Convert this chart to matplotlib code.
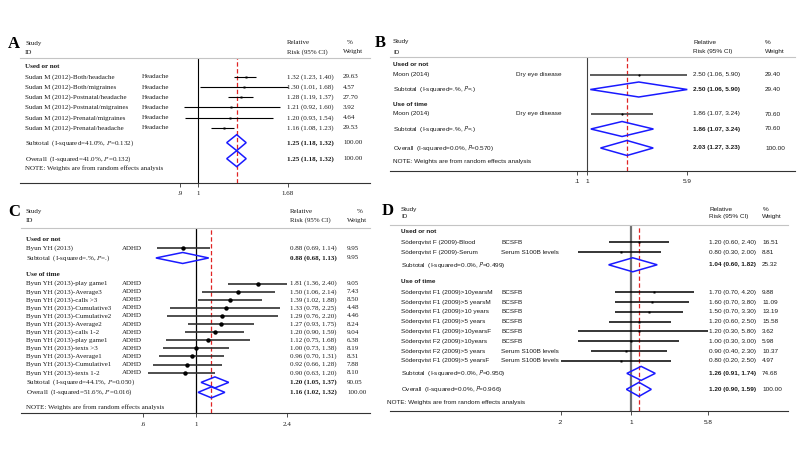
import numpy as np
import matplotlib.pyplot as plt
from matplotlib.patches import Polygon
from matplotlib.transforms import blended_transform_factory

# ---------------- data ----------------
# Panel A
A_groups = ["Used or not"]
A_study = ["Sudan M (2012)-Both/headache", "Sudan M (2012)-Both/migraines",
           "Sudan M (2012)-Postnatal/headache", "Sudan M (2012)-Postnatal/migraines",
           "Sudan M (2012)-Prenatal/migraines", "Sudan M (2012)-Prenatal/headache"]
A_outcome = ["Headache"] * 6
A_grp = [0, 0, 0, 0, 0, 0]
A_rr = [1.32, 1.30, 1.28, 1.21, 1.20, 1.16]
A_lo = [1.23, 1.01, 1.19, 0.92, 0.93, 1.08]
A_hi = [1.40, 1.68, 1.37, 1.60, 1.54, 1.23]
A_wt = [29.63, 4.57, 27.70, 3.92, 4.64, 29.53]
A_sub_i2 = ["41.0"]
A_sub_p = ["0.132"]
A_sub_rr = [1.25]
A_sub_lo = [1.18]
A_sub_hi = [1.32]
A_sub_wt = [100.00]
A_all = dict(i2="41.0", p="0.132", rr=1.25, lo=1.18, hi=1.32, wt=100.00)
A_ticks = [0.9, 1, 1.68]
A_ticklabels = [".9", "1", "1.68"]

# Panel B
B_groups = ["Used or not", "Use of time"]
B_study = ["Moon (2014)", "Moon (2014)"]
B_outcome = ["Dry eye disease", "Dry eye disease"]
B_grp = [0, 1]
B_rr = [2.50, 1.86]
B_lo = [1.06, 1.07]
B_hi = [5.90, 3.24]
B_wt = [29.40, 70.60]
B_sub_i2 = [".", "."]
B_sub_p = [".", "."]
B_sub_rr = [2.50, 1.86]
B_sub_lo = [1.06, 1.07]
B_sub_hi = [5.90, 3.24]
B_sub_wt = [29.40, 70.60]
B_all = dict(i2="0.0", p="0.570", rr=2.03, lo=1.27, hi=3.23, wt=100.00)
# the ".1" label sits just left of the null line in the source figure
B_ticks = [0.84, 1, 5.9]
B_ticklabels = [".1", "1", "5.9"]

# Panel C
C_groups = ["Used or not", "Use of time"]
C_study = ["Byun YH (2013)",
           "Byun YH (2013)-play game1", "Byun YH (2013)-Average3", "Byun YH (2013)-calls >3",
           "Byun YH (2013)-Cumulative3", "Byun YH (2013)-Cumulative2", "Byun YH (2013)-Average2",
           "Byun YH (2013)-calls 1-2", "Byun YH (2013)-play game1", "Byun YH (2013)-texts >3",
           "Byun YH (2013)-Average1", "Byun YH (2013)-Cumulative1", "Byun YH (2013)-texts 1-2"]
C_outcome = ["ADHD"] * 13
C_grp = [0] + [1] * 12
C_rr = [0.88, 1.81, 1.50, 1.39, 1.33, 1.29, 1.27, 1.20, 1.12, 1.00, 0.96, 0.92, 0.90]
C_lo = [0.69, 1.36, 1.06, 1.02, 0.78, 0.76, 0.93, 0.90, 0.75, 0.73, 0.70, 0.66, 0.63]
C_hi = [1.14, 2.40, 2.14, 1.88, 2.25, 2.20, 1.75, 1.59, 1.68, 1.38, 1.31, 1.28, 1.20]
C_wt = [9.95, 9.05, 7.43, 8.50, 4.48, 4.46, 8.24, 9.04, 6.38, 8.19, 8.31, 7.88, 8.10]
C_sub_i2 = [".", "44.1"]
C_sub_p = [".", "0.050"]
C_sub_rr = [0.88, 1.20]
C_sub_lo = [0.68, 1.05]
C_sub_hi = [1.13, 1.37]
C_sub_wt = [9.95, 90.05]
C_all = dict(i2="51.6", p="0.016", rr=1.16, lo=1.02, hi=1.32, wt=100.00)
C_ticks = [0.6, 1, 2.4]
C_ticklabels = [".6", "1", "2.4"]

# Panel D
D_groups = ["Used or not", "Use of time"]
D_study = ["Söderqvist F (2009)-Blood", "Söderqvist F (2009)-Serum",
           "Söderqvist F1 (2009)>10yearsM", "Söderqvist F1 (2009)>5 yearsM",
           "Söderqvist F1 (2009)>10 years", "Söderqvist F1 (2009)>5 years",
           "Söderqvist F1 (2009)>10yearsF", "Söderqvist F2 (2009)>10years",
           "Söderqvist F2 (2009)>5 years", "Söderqvist F1 (2009)>5 yearsF"]
D_outcome = ["BCSFB", "Serum S100B levels", "BCSFB", "BCSFB", "BCSFB", "BCSFB",
             "BCSFB", "BCSFB", "Serum S100B levels", "Serum S100B levels"]
D_grp = [0, 0, 1, 1, 1, 1, 1, 1, 1, 1]
D_rr = [1.20, 0.80, 1.70, 1.60, 1.50, 1.20, 1.20, 1.00, 0.90, 0.80]
D_lo = [0.60, 0.30, 0.70, 0.70, 0.70, 0.60, 0.30, 0.30, 0.40, 0.20]
D_hi = [2.40, 2.00, 4.20, 3.80, 3.30, 2.50, 5.80, 3.00, 2.30, 2.50]
D_wt = [16.51, 8.81, 9.88, 11.09, 13.19, 15.58, 3.62, 5.98, 10.37, 4.97]
D_sub_i2 = ["0.0", "0.0"]
D_sub_p = ["0.499", "0.950"]
D_sub_rr = [1.04, 1.26]
D_sub_lo = [0.60, 0.91]
D_sub_hi = [1.82, 1.74]
D_sub_wt = [25.32, 74.68]
D_all = dict(i2="0.0", p="0.966", rr=1.20, lo=0.90, hi=1.59, wt=100.00)
D_ticks = [0.2, 1, 5.8]
D_ticklabels = [".2", "1", "5.8"]

NOTE = "NOTE: Weights are from random effects analysis"

# ---------------- drawing ----------------
W, H = 800, 450
fig = plt.figure(figsize=(8, 4.5), dpi=100)
fig.patch.set_facecolor('white')

SERIF = 'Liberation Serif'
SANS = 'Liberation Sans'
TXT = '#1a1a1a'


def forest(letter, d, L):
    fam = L['fam']
    fs = L['fs']
    mfam = 'stix' if fam == SERIF else 'stixsans'
    s = L['step']
    left, right = L['xspan']
    x1, k = L['x1'], L['k']

    # work out row positions (pixels below header line)
    rows = []
    y = L['top'] * s
    for g, name in enumerate(d['groups']):
        if g > 0:
            y += L['g_after'] * s
        rows.append(('group', y, g))
        idx = [i for i in range(len(d['grp'])) if d['grp'][i] == g]
        for j, i in enumerate(idx):
            y += (L['gs'] if j == 0 else 1.0) * s
            rows.append(('study', y, i))
        y += L['sub'] * s
        rows.append(('sub', y, g))
    y += L['overall'] * s
    rows.append(('overall', y, None))
    y += L['note'] * s
    rows.append(('note', y, None))
    bottom = y + L['bottom'] * s

    top_px = L['header_y']
    ax = fig.add_axes([left / W, 1 - (top_px + bottom) / H,
                       (right - left) / W, bottom / H])
    ax.set_xscale('log')
    ax.set_xlim(np.exp((left - x1) / k), np.exp((right - x1) / k))
    ax.set_ylim(bottom, 0)
    ax.set_yticks([])
    for sp in ['left', 'right']:
        ax.spines[sp].set_visible(False)
    ax.spines['top'].set_color('#c4c4c4')
    ax.spines['top'].set_linewidth(0.8)
    ax.spines['bottom'].set_color('#333333')
    ax.spines['bottom'].set_linewidth(0.8)
    ax.set_xticks(L['ticks'])
    ax.set_xticklabels(L['ticklabels'])
    ax.minorticks_off()
    ax.tick_params(axis='x', length=3, width=0.6, color='#333333', pad=3,
                   labelsize=fs, labelcolor=TXT)
    for lab in ax.get_xticklabels():
        lab.set_family(fam)
    ax.patch.set_alpha(0)

    tr = blended_transform_factory(fig.transFigure, ax.transData)

    def txt(px, yy, t, bold=False):
        ax.text(px / W, yy, t, transform=tr, ha='left', va='center',
                fontsize=fs, family=fam, color=TXT,
                fontweight='bold' if bold else 'normal', math_fontfamily=mfam)

    # headers
    h1, h2 = L['hdr']
    txt(L['lab_x'], h1, "Study")
    txt(L['lab_x'], h2, "ID")
    txt(L['rr_x'], h1, "Relative")
    txt(L['rr_x'], h2, "Risk (95% CI)")
    txt(L['pct_x'], h1, "%")
    txt(L['wt_x'], h2, "Weight")
    fig.text(L['letter_x'] / W, 1 - (top_px + h1 + 1) / H, letter, fontsize=12,
             fontweight='bold', family=SERIF, ha='center', va='center')

    ax.axvline(1, color=L['null_c'], lw=L['null_lw'], zorder=1)
    ax.axvline(d['all']['rr'], color='#e02424', lw=0.9, ls=(0, (3.5, 2)), zorder=1)

    half = L['dia']

    def diamond(yy, rr, lo, hi):
        ax.add_patch(Polygon([[lo, yy], [rr, yy - half], [hi, yy], [rr, yy + half]],
                             closed=True, fill=False, ec='#1a1aff', lw=1.1, zorder=3))

    def ci(rr, lo, hi):
        return "%.2f (%.2f, %.2f)" % (rr, lo, hi)

    for kind, yy, i in rows:
        if kind == 'group':
            txt(L['lab_x'], yy, d['groups'][i], bold=True)
        elif kind == 'study':
            ax.plot([d['lo'][i], d['hi'][i]], [yy, yy], color=L['ci_c'], lw=L['ci_lw'],
                    solid_capstyle='butt', zorder=2)
            ax.plot(d['rr'][i], yy, marker=L['mk'], ms=L['ms'], color='black',
                    mec='none', zorder=4)
            txt(L['lab_x'], yy, d['study'][i])
            txt(L['out_x'], yy, d['outcome'][i])
            txt(L['rr_x'], yy, ci(d['rr'][i], d['lo'][i], d['hi'][i]))
            txt(L['wt_x'], yy, "%.2f" % d['wt'][i])
        elif kind == 'sub':
            diamond(yy, d['sub_rr'][i], d['sub_lo'][i], d['sub_hi'][i])
            txt(L['lab_x'], yy, "Subtotal  (I-squared=%s%%, $\\mathit{P}$=%s)"
                % (d['sub_i2'][i], d['sub_p'][i]))
            txt(L['rr_x'], yy, ci(d['sub_rr'][i], d['sub_lo'][i], d['sub_hi'][i]), bold=True)
            txt(L['wt_x'], yy, "%.2f" % d['sub_wt'][i])
        elif kind == 'overall':
            a = d['all']
            diamond(yy, a['rr'], a['lo'], a['hi'])
            txt(L['lab_x'], yy, "Overall  (I-squared=%s%%, $\\mathit{P}$=%s)" % (a['i2'], a['p']))
            txt(L['rr_x'], yy, ci(a['rr'], a['lo'], a['hi']), bold=True)
            txt(L['wt_x'], yy, "%.2f" % a['wt'])
        elif kind == 'note':
            txt(L['note_x'], yy, NOTE)


def pack(p):
    g = globals()
    return dict(groups=g[p + '_groups'], study=g[p + '_study'], outcome=g[p + '_outcome'],
                grp=g[p + '_grp'], rr=g[p + '_rr'], lo=g[p + '_lo'], hi=g[p + '_hi'],
                wt=g[p + '_wt'], sub_i2=g[p + '_sub_i2'], sub_p=g[p + '_sub_p'],
                sub_rr=g[p + '_sub_rr'], sub_lo=g[p + '_sub_lo'], sub_hi=g[p + '_sub_hi'],
                sub_wt=g[p + '_sub_wt'], all=g[p + '_all'])


forest('A', pack('A'), dict(
    fam=SERIF, fs=5.0, xspan=(20, 370), x1=198, k=173.5, header_y=58, step=10.2,
    top=0.8, gs=1.05, sub=1.45, g_after=1.5, overall=1.57, note=0.98, bottom=1.37,
    lab_x=25, out_x=142, rr_x=287, wt_x=343, pct_x=347, note_x=25, letter_x=14,
    hdr=(-15, -6), dia=8, ticks=A_ticks, ticklabels=A_ticklabels,
    null_c='black', null_lw=0.8, ci_c='black', ci_lw=0.8, mk='s', ms=1.8))

forest('B', pack('B'), dict(
    fam=SANS, fs=4.6, xspan=(390, 795), x1=587, k=56.5, header_y=57, step=10,
    top=0.8, gs=0.95, sub=1.5, g_after=1.5, overall=1.9, note=1.4, bottom=0.9,
    lab_x=393, out_x=516, rr_x=693, wt_x=765, pct_x=765, note_x=393, letter_x=380,
    hdr=(-15, -5), dia=7.5, ticks=B_ticks, ticklabels=B_ticklabels,
    null_c='#404040', null_lw=0.8, ci_c='#505050', ci_lw=1.3, mk='o', ms=1.6))

forest('C', pack('C'), dict(
    fam=SERIF, fs=5.0, xspan=(21, 370), x1=196, k=104, header_y=228, step=8.1,
    top=1.4, gs=1.1, sub=1.2, g_after=2.06, overall=1.23, note=1.85, bottom=0.74,
    lab_x=26, out_x=122, rr_x=290, wt_x=347, pct_x=357, note_x=26, letter_x=14,
    hdr=(-17, -8), dia=5.5, ticks=C_ticks, ticklabels=C_ticklabels,
    null_c='black', null_lw=0.9, ci_c='#303030', ci_lw=1.2, mk='o', ms=3.2))

forest('D', pack('D'), dict(
    fam=SANS, fs=4.6, xspan=(390, 788), x1=631, k=43.8, header_y=225, step=9.8,
    top=0.71, gs=1.07, sub=1.28, g_after=1.73, overall=1.63, note=1.33, bottom=0.92,
    lab_x=401, out_x=501, rr_x=709, wt_x=762, pct_x=763, note_x=387, letter_x=388,
    hdr=(-15, -8), dia=7, ticks=D_ticks, ticklabels=D_ticklabels,
    null_c='#707070', null_lw=1.6, ci_c='black', ci_lw=1.1, mk='s', ms=2.0))

fig.savefig('out.png', dpi=100, facecolor='white')
